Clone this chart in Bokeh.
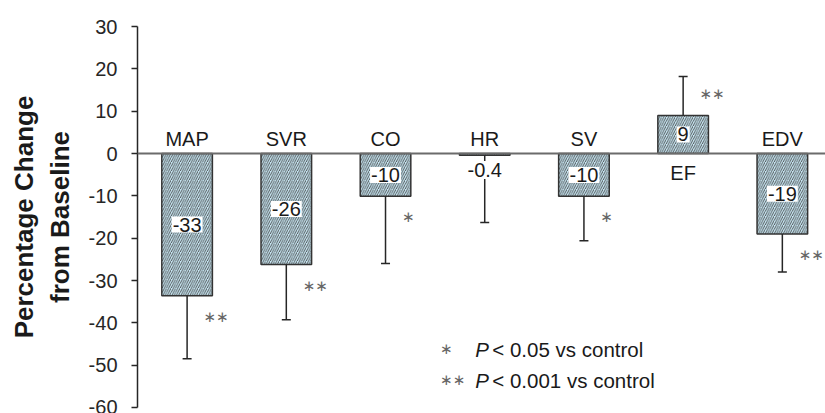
from bokeh.plotting import figure
from bokeh.models import Range1d, FixedTicker, Span, ColumnDataSource
from bokeh.core.properties import value
from bokeh.embed import file_html
from bokeh.resources import INLINE

categories = ["MAP", "SVR", "CO", "HR", "SV", "EF", "EDV"]
values = [-33.6, -26.2, -10.1, -0.4, -10.1, 9.0, -19.0]
err_end = [-48.5, -39.3, -26.0, -16.3, -20.6, 18.2, -28.0]
value_labels = ["-33", "-26", "-10", "-0.4", "-10", "9", "-19"]
signif = ["∗∗", "∗∗", "∗", "", "∗", "∗∗", "∗∗"]
y_ticks = [-60, -50, -40, -30, -20, -10, 0, 10, 20, 30]
legend_marks = ["∗", "∗∗"]
legend_p = ["P", "P"]
legend_text = ["< 0.05 vs control", "< 0.001 vs control"]

FONT = "Liberation Sans"
DARK = "#262626"

xs = list(range(len(categories)))

p = figure(width=825, height=413, output_backend="svg", toolbar_location=None,
           x_range=Range1d(-0.5, 6.435), y_range=Range1d(-60, 30),
           x_axis_location=None, min_border_left=137, min_border_right=0,
           min_border_top=26, min_border_bottom=6)
p.outline_line_color = None
p.grid.visible = False
p.background_fill_color = "white"

ax = p.yaxis[0]
ax.ticker = FixedTicker(ticks=y_ticks)
ax.major_label_overrides = {t: str(t) for t in y_ticks}
ax.minor_tick_line_color = None
ax.major_tick_out = 6
ax.major_tick_in = 0
ax.axis_line_color = DARK
ax.axis_line_width = 1.5
ax.major_tick_line_color = DARK
ax.major_tick_line_width = 1.5
ax.major_label_text_font = FONT
ax.major_label_text_font_size = "20px"
ax.major_label_text_color = DARK
ax.major_label_standoff = 14
ax.axis_label = "Percentage Change\nfrom Baseline"
ax.axis_label_text_font = FONT
ax.axis_label_text_font_size = "26px"
ax.axis_label_text_font_style = "bold"
ax.axis_label_text_color = "#1a1a1a"
ax.axis_label_standoff = 11

# bars
src = ColumnDataSource(dict(x=xs, top=values))
p.vbar(x="x", top="top", bottom=0, width=0.51, source=src,
       fill_color="#c8e6f2", line_color="#333333", line_width=1.5,
       hatch_pattern="/", hatch_color="#333333", hatch_scale=4.5, hatch_weight=0.8)

# error bars
p.segment(x0=xs, y0=values, x1=xs, y1=err_end, line_color=DARK, line_width=1.5)
p.scatter(x=xs, y=err_end, marker="dash", size=9, line_color=DARK, line_width=1.5)

# zero line
p.add_layout(Span(location=0, dimension="width", line_color="#6b6b6b", line_width=2))

# value labels
box_idx = [i for i, c in enumerate(categories) if c != "HR"]
p.text(x=[xs[i] for i in box_idx], y=[values[i] / 2 for i in box_idx],
       text=[value_labels[i] for i in box_idx],
       text_font=value(FONT), text_font_size="20px", text_color="#1a1a1a",
       text_align="center", text_baseline="middle",
       background_fill_color="white", padding=1)
hr = categories.index("HR")
p.text(x=[xs[hr]], y=[-3.9], text=[value_labels[hr]],
       text_font=value(FONT), text_font_size="20px", text_color="#1a1a1a",
       text_align="center", text_baseline="middle",
       background_fill_color="white", padding=2)

# category labels
cat_y = [-4.6 if c == "EF" else 3.5 for c in categories]
p.text(x=xs, y=cat_y, text=categories, text_font=value(FONT), text_font_size="20px",
       text_color="#1a1a1a", text_align="center", text_baseline="middle")

# significance marks
sig_idx = [i for i, s in enumerate(signif) if s]
p.text(x=[xs[i] + 0.165 for i in sig_idx],
       y=[values[i] + (5 if values[i] > 0 else -5) for i in sig_idx],
       text=[signif[i] for i in sig_idx], text_font=value("DejaVu Sans"),
       text_font_size="15px", text_color="#666666", text_align="left",
       text_baseline="middle")

# legend
leg_y = [-46.2, -53.6]
p.text(x=[2.55] * 2, y=leg_y, text=legend_marks, text_font=value("DejaVu Sans"),
       text_font_size="15px", text_color="#666666", text_align="left", text_baseline="middle")
p.text(x=[2.905] * 2, y=leg_y, text=legend_p, text_font=value(FONT), text_font_style="italic",
       text_font_size="20.5px", text_color="#1a1a1a", text_align="left", text_baseline="middle")
p.text(x=[2.905] * 2, y=leg_y, text=legend_text, text_font=value(FONT), x_offset=17,
       text_font_size="20.5px", text_color="#1a1a1a", text_align="left", text_baseline="middle")

open("out.html", "w").write(file_html(p, INLINE))
